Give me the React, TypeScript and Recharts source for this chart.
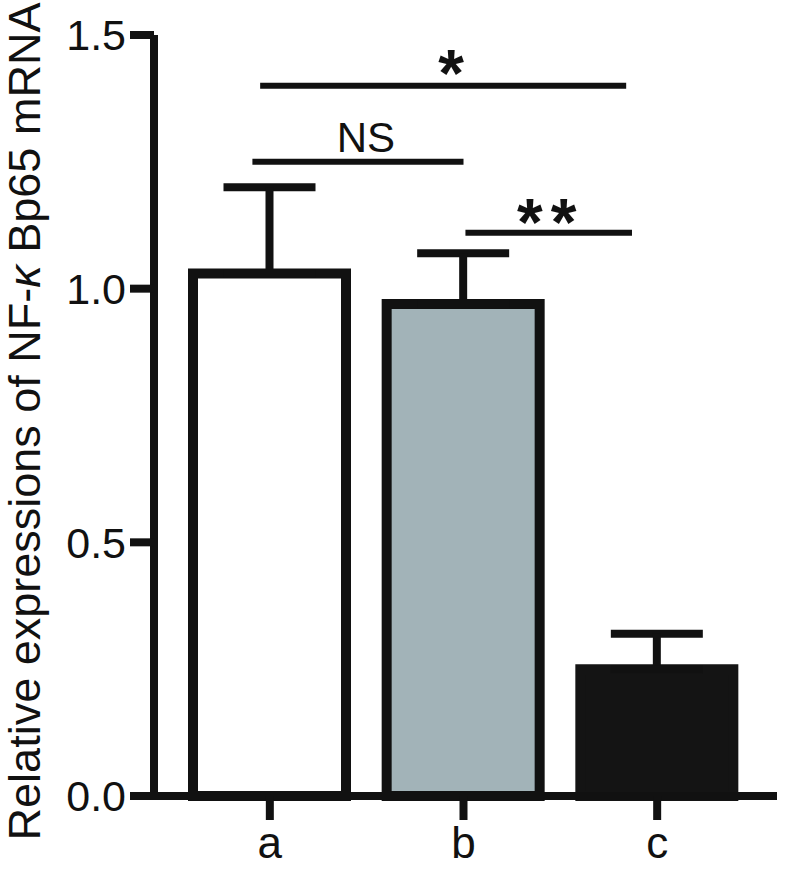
import { BarChart, Bar, XAxis, YAxis, Cell, ErrorBar, ReferenceLine, Label } from 'recharts'

const groups = ['a', 'b', 'c']
const means = [1.03, 0.97, 0.25]
const errors = [0.17, 0.1, 0.07]
const fills = ['#ffffff', '#a2b3b8', '#141414']
const yTicks = [0, 0.5, 1.0, 1.5]

// significance brackets, x in category index units
const sigText = ['*', 'NS', '**']
const sigStart = [-0.05, -0.09, 1.01]
const sigEnd = [1.84, 1.0, 1.87]
const sigLevel = [1.4, 1.25, 1.11]

const data = groups.map((g, i) => ({ group: g, idx: i, mean: means[i], err: [0, errors[i]] }))

const FONT = '"Liberation Sans", Arial, sans-serif'
const INK = '#111'

const sigStyle = [
  { size: 66, weight: 700, dx: 8, dy: 10, spacing: 0 },
  { size: 42, weight: 400, dx: 8, dy: -10, spacing: 0 },
  { size: 66, weight: 700, dx: 2, dy: 12, spacing: 8 },
]

const sigLabel = (i: number) => (props: any) => {
  const vb = props.viewBox || {}
  const s = sigStyle[i]
  return (
    <text
      x={vb.x + vb.width / 2 + s.dx}
      y={vb.y + s.dy}
      textAnchor="middle"
      fontSize={s.size}
      fontWeight={s.weight}
      letterSpacing={s.spacing}
      fontFamily={FONT}
      fill={INK}
    >
      {sigText[i]}
    </text>
  )
}

const yLabel = (props: any) => {
  const vb = props.viewBox || {}
  const cx = vb.x + 40
  const cy = vb.y + vb.height / 2 + 6
  return (
    <text x={cx} y={cy} transform={`rotate(-90, ${cx}, ${cy})`} textAnchor="middle" fontSize={45} fontFamily={FONT} fill={INK}>
      Relative expressions of NF-<tspan fontStyle="italic">κ</tspan> Bp65 mRNA
    </text>
  )
}

export default function App() {
  return (
    <div style={{ width: 786, height: 876, background: '#fff' }}>
      <style>{'body{margin:0}'}</style>
      <BarChart width={786} height={876} data={data} margin={{ top: 35, right: 9, bottom: 0, left: 0 }} barSize={153}>
        <XAxis
          dataKey="group"
          height={80}
          padding={{ left: 19, right: 23 }}
          axisLine={{ stroke: INK, strokeWidth: 8 }}
          tickLine={{ stroke: INK, strokeWidth: 8 }}
          tickSize={24}
          tickMargin={7}
          tick={{ fill: INK, fontSize: 44, fontFamily: FONT }}
        />
        <XAxis xAxisId="pos" type="number" dataKey="idx" domain={[-0.5, 2.5]} allowDataOverflow hide padding={{ left: 19, right: 23 }} />
        <YAxis
          width={154}
          domain={[0, 1.5]}
          ticks={yTicks}
          interval={0}
          tickFormatter={(v: number) => v.toFixed(1)}
          axisLine={{ stroke: INK, strokeWidth: 8 }}
          tickLine={{ stroke: INK, strokeWidth: 8 }}
          tickSize={24}
          tickMargin={4}
          tick={{ fill: INK, fontSize: 43, fontFamily: FONT }}
        >
          <Label content={yLabel} />
        </YAxis>
        <Bar dataKey="mean" stroke={INK} strokeWidth={10} isAnimationActive={false}>
          {data.map((d, i) => (
            <Cell key={d.group} fill={fills[i]} stroke={i === 2 ? fills[i] : INK} />
          ))}
          <ErrorBar dataKey="err" direction="y" width={46} stroke={INK} strokeWidth={8} isAnimationActive={false} />
        </Bar>
        {sigText.map((t, i) => (
          <ReferenceLine
            key={t}
            xAxisId="pos"
            segment={[{ x: sigStart[i], y: sigLevel[i] }, { x: sigEnd[i], y: sigLevel[i] }]}
            stroke={INK}
            strokeWidth={6}
            label={sigLabel(i)}
          />
        ))}
      </BarChart>
    </div>
  )
}
